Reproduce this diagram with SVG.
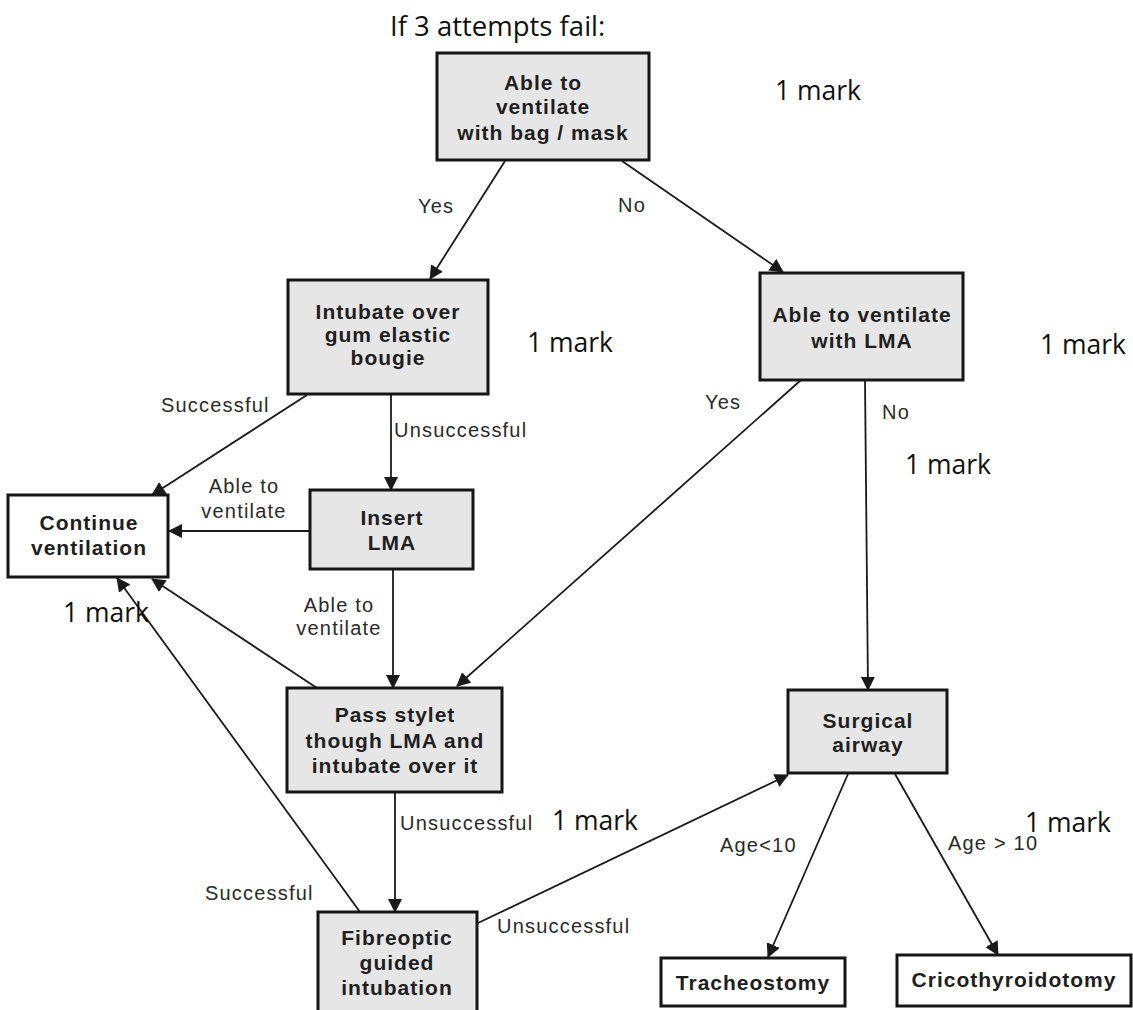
<svg xmlns="http://www.w3.org/2000/svg" width="1133" height="1010" viewBox="0 0 1133 1010">
<defs>
<marker id="arr" markerUnits="userSpaceOnUse" markerWidth="14" markerHeight="14" viewBox="0 0 14 14" refX="13" refY="7" orient="auto">
<path d="M0,0 L14,7 L0,14 z" fill="#1a1a1a"/>
</marker>
<style>
.box{fill:#e6e6e6;stroke:#151515;stroke-width:3}
.wbox{fill:#ffffff;stroke:#151515;stroke-width:3}
.bt{font-family:"Liberation Sans",Arial,sans-serif;font-weight:bold;font-size:21px;fill:#1e1e1e;text-anchor:middle;letter-spacing:1px}
.lb{font-family:"Liberation Sans",Arial,sans-serif;font-size:20px;fill:#2a2a2a;letter-spacing:1.2px}
.mk{font-family:"Open Sans",Lato,sans-serif;font-size:26.5px;fill:#111}
.ln{stroke:#1a1a1a;stroke-width:1.8;fill:none;marker-end:url(#arr)}
</style>
</defs>
<rect width="1133" height="1010" fill="#ffffff"/>

<text class="mk" x="390" y="36" style="font-size:27.5px">If 3 attempts fail:</text>

<g id="connectors">
<line class="ln" x1="505" y1="161" x2="430" y2="279"/>
<line class="ln" x1="622" y1="161" x2="783" y2="272"/>
<line class="ln" x1="307" y1="395" x2="152" y2="495"/>
<line class="ln" x1="391" y1="395" x2="391" y2="490"/>
<line class="ln" x1="310" y1="531" x2="169" y2="531"/>
<line class="ln" x1="393" y1="569" x2="393" y2="688"/>
<line class="ln" x1="801" y1="380" x2="457" y2="686"/>
<line class="ln" x1="865" y1="380" x2="868" y2="690"/>
<line class="ln" x1="317" y1="688" x2="152" y2="579"/>
<line class="ln" x1="395" y1="792" x2="395" y2="912"/>
<line class="ln" x1="360" y1="912" x2="117" y2="578"/>
<line class="ln" x1="478" y1="923" x2="788" y2="775"/>
<line class="ln" x1="848" y1="774" x2="768" y2="957"/>
<line class="ln" x1="895" y1="774" x2="998" y2="955"/>
</g>

<g id="labels">
<text class="lb" x="418" y="213">Yes</text>
<text class="lb" x="618" y="212">No</text>
<text class="lb" x="161" y="412">Successful</text>
<text class="lb" x="394" y="437">Unsuccessful</text>
<text class="lb" x="244" y="493" text-anchor="middle">Able to</text>
<text class="lb" x="244" y="518" text-anchor="middle">ventilate</text>
<text class="lb" x="339" y="612" text-anchor="middle">Able to</text>
<text class="lb" x="339" y="635" text-anchor="middle">ventilate</text>
<text class="lb" x="705" y="409">Yes</text>
<text class="lb" x="882" y="419">No</text>
<text class="lb" x="400" y="830">Unsuccessful</text>
<text class="lb" x="205" y="900">Successful</text>
<text class="lb" x="497" y="933">Unsuccessful</text>
<text class="lb" x="720" y="852">Age&lt;10</text>
<text class="lb" x="948" y="850">Age &gt; 10</text>
</g>

<g id="marks">
<text class="mk" x="775" y="100">1 mark</text>
<text class="mk" x="527" y="352">1 mark</text>
<text class="mk" x="1040" y="354">1 mark</text>
<text class="mk" x="905" y="474">1 mark</text>
<text class="mk" x="63" y="622">1 mark</text>
<text class="mk" x="552" y="830">1 mark</text>
<text class="mk" x="1025" y="832">1 mark</text>
</g>

<g id="node-bagmask">
<rect class="box" x="437" y="53" width="212" height="107"/>
<text class="bt" x="543" y="90">Able to</text>
<text class="bt" x="543" y="114">ventilate</text>
<text class="bt" x="543" y="140">with bag / mask</text>
</g>

<g id="node-bougie">
<rect class="box" x="288" y="280" width="200" height="114"/>
<text class="bt" x="388" y="319">Intubate over</text>
<text class="bt" x="388" y="342">gum elastic</text>
<text class="bt" x="388" y="365">bougie</text>
</g>

<g id="node-lma-check">
<rect class="box" x="760" y="273" width="203" height="107"/>
<text class="bt" x="862" y="322">Able to ventilate</text>
<text class="bt" x="862" y="348">with LMA</text>
</g>

<g id="node-continue">
<rect class="wbox" x="8" y="495" width="160" height="82"/>
<text class="bt" x="89" y="530">Continue</text>
<text class="bt" x="89" y="555">ventilation</text>
</g>

<g id="node-insert-lma">
<rect class="box" x="310" y="490" width="163" height="79"/>
<text class="bt" x="392" y="525">Insert</text>
<text class="bt" x="392" y="550">LMA</text>
</g>

<g id="node-stylet">
<rect class="box" x="287" y="688" width="215" height="104"/>
<text class="bt" x="395" y="722">Pass stylet</text>
<text class="bt" x="395" y="748">though LMA and</text>
<text class="bt" x="395" y="773">intubate over  it</text>
</g>

<g id="node-fibreoptic">
<rect class="box" x="318" y="912" width="159" height="104"/>
<text class="bt" x="397" y="945">Fibreoptic</text>
<text class="bt" x="397" y="970">guided</text>
<text class="bt" x="397" y="995">intubation</text>
</g>

<g id="node-surgical">
<rect class="box" x="788" y="690" width="159" height="83"/>
<text class="bt" x="868" y="728">Surgical</text>
<text class="bt" x="868" y="752">airway</text>
</g>

<g id="node-tracheostomy">
<rect class="wbox" x="661" y="958" width="184" height="48"/>
<text class="bt" x="753" y="990">Tracheostomy</text>
</g>

<g id="node-crico">
<rect class="wbox" x="897" y="955" width="234" height="51"/>
<text class="bt" x="1014" y="987">Cricothyroidotomy</text>
</g>
</svg>
